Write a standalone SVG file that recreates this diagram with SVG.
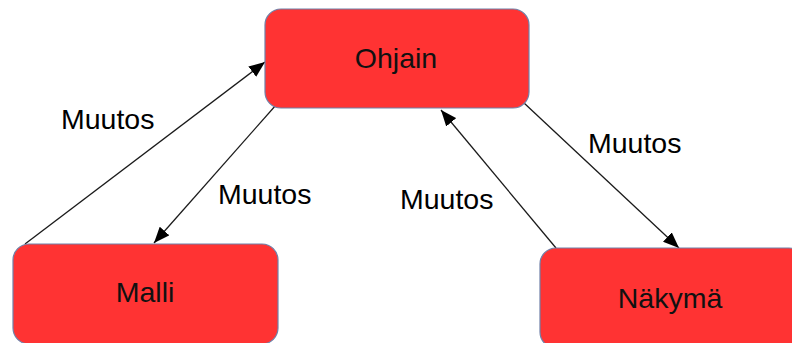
<svg xmlns="http://www.w3.org/2000/svg" width="792" height="343" viewBox="0 0 792 343">
<style>
.box{fill:#ff3333;stroke:#7080a8;stroke-width:1.2}
.lbl{font-family:"Liberation Sans",Arial,sans-serif;font-size:28.5px;fill:#000}
.ntext{font-family:"Liberation Sans",Arial,sans-serif;font-size:28.5px;fill:#111;text-anchor:middle}
.conn{stroke:#1a1a1a;stroke-width:1.3;fill:none;marker-end:url(#ah)}
</style>
<defs>
<marker id="ah" markerUnits="userSpaceOnUse" markerWidth="17" markerHeight="13" refX="16" refY="6.5" orient="auto">
<path d="M0,0 L16,6.5 L0,13 Z" fill="#000"/>
</marker>
</defs>
<rect width="792" height="343" fill="#fff"/>
<g id="connectors">
<line class="conn" x1="25" y1="244" x2="265" y2="62"/>
<line class="conn" x1="276" y1="105" x2="154" y2="243"/>
<line class="conn" x1="556" y1="248" x2="441" y2="110"/>
<line class="conn" x1="524" y1="103" x2="679" y2="248"/>
</g>
<g id="labels">
<text class="lbl" x="61" y="129">Muutos</text>
<text class="lbl" x="218" y="204">Muutos</text>
<text class="lbl" x="400" y="209">Muutos</text>
<text class="lbl" x="588" y="153">Muutos</text>
</g>
<g id="ohjain">
<rect class="box" x="265" y="9" width="264" height="99" rx="16"/>
<text class="ntext" x="396" y="68">Ohjain</text>
</g>
<g id="malli">
<rect class="box" x="13" y="244" width="265" height="100" rx="16"/>
<text class="ntext" x="145" y="302">Malli</text>
</g>
<g id="nakyma">
<rect class="box" x="540" y="248" width="265" height="100" rx="16"/>
<text class="ntext" x="670" y="308">Näkymä</text>
</g>
</svg>
